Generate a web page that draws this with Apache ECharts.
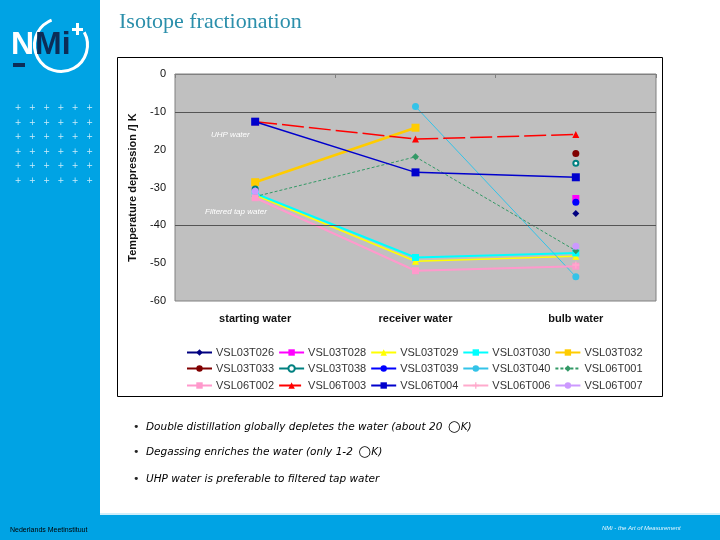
<!DOCTYPE html>
<html>
<head>
<meta charset="utf-8">
<script src="https://cdn.jsdelivr.net/npm/echarts@6/dist/echarts.min.js"></script>
<style>
html,body{margin:0;padding:0;background:#fff;}
#c{width:720px;height:540px;}
</style>
</head>
<body>
<div id="c"></div>
<script>
var categories = ['starting water', 'receiver water', 'bulb water'];
var yTicks = [0, -10, -20, -30, -40, -50, -60];
var gridlineValues = [-10, -40];

var sVSL03T026 = [null, null, -36.9];
var sVSL03T028 = [null, null, -32.9];
var sVSL03T029 = [-32.0, -49.5, -48.2];
var sVSL03T030 = [-31.6, -48.5, -47.3];
var sVSL03T032 = [-28.6, -14.2, null];
var sVSL03T033 = [null, null, -21.0];
var sVSL03T038 = [-30.4, null, -23.6];
var sVSL03T039 = [null, null, -33.9];
var sVSL03T040 = [null, -8.6, -53.6];
var sVSL06T001 = [-32.4, -21.9, -46.7];
var sVSL06T002 = [-32.7, -52.0, -50.8];
var sVSL06T003 = [-12.6, -17.2, -16.0];
var sVSL06T004 = [-12.6, -26.0, -27.3];
var sVSL06T006 = [null, null, -50.5];
var sVSL06T007 = [-31.0, null, -45.5];

var crossPath = 'path://M4,0h2v4h4v2h-4v4h-2v-4h-4v-2h4z';
var seriesDefs = [
  ['VSL03T026', sVSL03T026, '#000080', 'diamond', 7, 1, 'solid'],
  ['VSL03T028', sVSL03T028, '#ff00ff', 'rect', 7, 1.5, 'solid'],
  ['VSL03T029', sVSL03T029, '#ffff00', 'triangle', 7, 1.5, 'solid'],
  ['VSL03T030', sVSL03T030, '#00ffff', 'rect', 7, 2, 'solid'],
  ['VSL03T032', sVSL03T032, '#ffcc00', 'rect', 8, 2.5, 'solid'],
  ['VSL03T033', sVSL03T033, '#800000', 'circle', 7, 1, 'solid'],
  ['VSL03T038', sVSL03T038, '#008080', 'emptyCircle', 5, 1, 'solid'],
  ['VSL03T039', sVSL03T039, '#0000ff', 'circle', 7, 1, 'solid'],
  ['VSL03T040', sVSL03T040, '#33c3e8', 'circle', 7, 1, 'solid'],
  ['VSL06T001', sVSL06T001, '#339966', 'diamond', 7, 1, [3, 2]],
  ['VSL06T002', sVSL06T002, '#ff99cc', 'rect', 7, 2, 'solid'],
  ['VSL06T003', sVSL06T003, '#ff0000', 'triangle', 7, 1.5, [22, 5]],
  ['VSL06T004', sVSL06T004, '#0000cc', 'rect', 8, 1.5, 'solid'],
  ['VSL06T006', sVSL06T006, '#ffaacc', crossPath, 7, 1, 'solid'],
  ['VSL06T007', sVSL06T007, '#cc99ff', 'circle', 7, 1, 'solid']
];

var series = seriesDefs.map(function (d) {
  return {
    name: d[0], type: 'line', data: d[1],
    itemStyle: { color: d[2] },
    lineStyle: { color: d[2], width: d[5], type: d[6] },
    symbol: d[3], symbolSize: d[4], showSymbol: true,
    connectNulls: false, z: 3, silent: true
  };
});
series.unshift({
  name: 'grid', type: 'line', data: [], silent: true,
  markLine: {
    silent: true, symbol: 'none', label: { show: false },
    lineStyle: { color: '#555', width: 1, type: 'solid' },
    data: gridlineValues.map(function (v) { return { yAxis: v }; })
  }
});

var names = seriesDefs.map(function (d) { return d[0]; });
var legendRows = [names.slice(0, 5), names.slice(5, 10), names.slice(10, 15)];
var legendTops = [342, 358, 375];
var legends = legendRows.map(function (row, i) {
  return {
    data: row, left: 181, top: legendTops[i], itemWidth: 25, itemHeight: 8,
    itemGap: 4, selectedMode: false,
    textStyle: { fontFamily: 'Liberation Sans, Arial', fontSize: 11, color: '#333', padding: [0, 0, 0, -1] }
  };
});

// decorations
var gfx = [];
gfx.push({ type: 'rect', z: -10, shape: { x: 0, y: 0, width: 100, height: 540 }, style: { fill: '#00a3e4' } });
gfx.push({ type: 'rect', z: -10, shape: { x: 0, y: 515, width: 720, height: 25 }, style: { fill: '#00a3e4' } });
gfx.push({ type: 'rect', z: -10, shape: { x: 100, y: 513, width: 620, height: 2 }, style: { fill: '#cfeefa' } });
gfx.push({ type: 'rect', z: -5, shape: { x: 117.5, y: 57.5, width: 545, height: 339 }, style: { fill: '#fff', stroke: '#000', lineWidth: 1 } });
// logo
gfx.push({ type: 'arc', shape: { cx: 61, cy: 45, r: 26.5, startAngle: -0.5, endAngle: 4.35 }, style: { stroke: '#fff', lineWidth: 3, fill: null } });
gfx.push({ type: 'text', style: { x: 11, y: 29, text: 'N', fill: '#fff', font: 'bold 32px Liberation Sans, Arial' } });
gfx.push({ type: 'text', style: { x: 35, y: 29, text: 'Mi', fill: '#0c2d57', font: 'bold 32px Liberation Sans, Arial' } });
gfx.push({ type: 'rect', shape: { x: 13, y: 63, width: 12, height: 4 }, style: { fill: '#0c2d57' } });
gfx.push({ type: 'rect', shape: { x: 72, y: 28, width: 11, height: 3 }, style: { fill: '#fff' } });
gfx.push({ type: 'rect', shape: { x: 76, y: 23, width: 3, height: 12 }, style: { fill: '#fff' } });
for (var r = 0; r < 6; r++) {
  for (var c = 0; c < 6; c++) {
    gfx.push({ type: 'text', style: { x: 18 + c * 14.3, y: 108 + r * 14.6, text: '+', fill: 'rgba(255,255,255,0.8)', font: '8px DejaVu Sans', align: 'center', verticalAlign: 'middle' } });
  }
}
// annotations
gfx.push({ type: 'text', z: 10, style: { x: 211, y: 135, text: 'UHP water', fill: '#fff', font: 'italic 8px Liberation Sans, Arial', verticalAlign: 'middle' } });
gfx.push({ type: 'text', z: 10, style: { x: 205, y: 212, text: 'Filtered tap water', fill: '#fff', font: 'italic 8px Liberation Sans, Arial', verticalAlign: 'middle' } });
// bullets
var bullets = [
  ['Double distillation globally depletes the water (about 20 ', true],
  ['Degassing enriches the water (only 1-2 ', true],
  ['UHP water is preferable to filtered tap water', false]
];
var bulletY = [427, 452, 479];
bullets.forEach(function (b, i) {
  gfx.push({ type: 'text', style: { x: 133, y: bulletY[i], text: '•', fill: '#222', font: '11px DejaVu Sans', verticalAlign: 'middle' } });
  gfx.push({ type: 'text', style: { x: 146, y: bulletY[i], text: b[1] ? '{t|' + b[0] + '}{o|○}{t|K)}' : '{t|' + b[0] + '}',
    rich: { t: { fontFamily: 'DejaVu Sans', fontStyle: 'italic', fontSize: 10.5, color: '#222' },
            o: { fontFamily: 'DejaVu Sans', fontSize: 15, color: '#222', padding: [0, 0, 0, 2] } },
    verticalAlign: 'middle' } });
});
// footer
gfx.push({ type: 'text', style: { x: 10, y: 530, text: '{a|Nederlands }{b|Meetinstituut}',
  rich: { a: { fontFamily: 'Liberation Sans', fontSize: 7, color: '#d8f0fb' }, b: { fontFamily: 'Liberation Sans', fontSize: 7, color: '#0c2d57' } },
  verticalAlign: 'middle' } });
gfx.push({ type: 'text', style: { x: 602, y: 528, text: 'NMi - the Art of Measurement', fill: '#e6f6fd', font: 'italic 6px Liberation Sans', verticalAlign: 'middle' } });

var chart = echarts.init(document.getElementById('c'), null, { renderer: 'canvas' });
chart.setOption({
  animation: false,
  backgroundColor: '#fff',
  title: {
    text: 'Isotope fractionation', left: 114, top: 6,
    textStyle: { fontFamily: 'Liberation Serif, serif', fontWeight: 'normal', fontSize: 22, color: '#2b8fab' }
  },
  graphic: gfx,
  legend: legends,
  grid: {
    left: 175, right: 64, top: 74, bottom: 239, show: true,
    backgroundColor: '#c0c0c0', borderColor: '#808080', borderWidth: 1
  },
  xAxis: {
    type: 'category', data: categories, boundaryGap: true,
    axisLine: { lineStyle: { color: '#808080', width: 1 } },
    axisTick: { show: true, length: 4, lineStyle: { color: '#808080' } },
    axisLabel: { margin: 12, fontFamily: 'Liberation Sans, Arial', fontSize: 11, fontWeight: 'bold', color: '#111' }
  },
  yAxis: {
    type: 'value', min: -60, max: 0, interval: 10,
    name: 'Temperature depression /] K', nameLocation: 'middle', nameGap: 37, nameRotate: 90,
    nameTextStyle: { fontFamily: 'Liberation Sans, Arial', fontSize: 11, fontWeight: 'bold', color: '#111' },
    axisLine: { show: false }, axisTick: { show: false },
    splitLine: { show: false },
    axisLabel: {
      margin: 9, fontFamily: 'Liberation Sans, Arial', fontSize: 11, color: '#111',
      formatter: function (v) { return v === -20 ? '20' : String(v); }
    }
  },
  series: series
});
</script>
</body>
</html>
